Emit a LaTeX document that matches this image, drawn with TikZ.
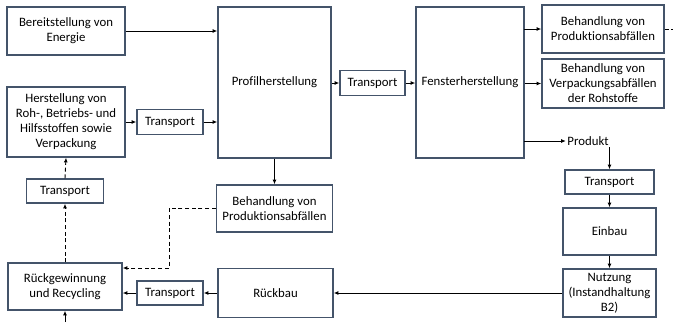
\documentclass[tikz,border=0pt]{standalone}
\usepackage{fontspec}
\setmainfont{Carlito}[Ligatures=NoCommon]
\usetikzlibrary{arrows.meta}
\definecolor{boxc}{HTML}{44546A}
\begin{document}
\begin{tikzpicture}[x=0.75pt,y=-0.75pt,
  box/.style={draw=boxc,line width=1.1pt,inner sep=0pt,align=center,
    font=\fontsize{9.6}{11.3}\selectfont},
  lbl/.style={inner sep=1pt,font=\fontsize{9.6}{11.3}\selectfont},
  arr/.style={-{Latex[length=3.5pt,width=3pt]},line width=0.7pt},
  darr/.style={arr,dash pattern=on 3pt off 2pt},
  dline/.style={line width=0.7pt,dash pattern=on 3pt off 2pt}]
\useasboundingbox (0,0) rectangle (673,322);
\node[box,minimum width=88.5pt,minimum height=36pt] (ber) at (66,31) {Bereitstellung von\\Energie};
\node[box,minimum width=88.5pt,minimum height=52.5pt] (her) at (66,122) {Herstellung von\\Roh-, Betriebs- und\\Hilfsstoffen sowie\\Verpackung};
\node[box,minimum width=49.5pt,minimum height=18.75pt] (t1) at (170,122) {Transport};
\node[box,minimum width=84.75pt,minimum height=113.25pt] (prof) at (274.5,82.5) {Profilherstellung};
\node[box,minimum width=48.75pt,minimum height=18.75pt] (t2) at (372.5,83) {Transport};
\node[box,minimum width=81pt,minimum height=113.25pt] (fen) at (470,82.5) {Fensterherstellung};
\node[box,minimum width=91.5pt,minimum height=36pt] (bp) at (603,29) {Behandlung von\\Produktionsabfällen};
\node[box,minimum width=91.5pt,minimum height=36.75pt] (bv) at (603,83.5) {Behandlung von\\Verpackungsabfällen\\der Rohstoffe};
\node[lbl] (prod) at (588,141) {Produkt};
\node[box,minimum width=66.75pt,minimum height=18pt] (t3) at (609.5,182) {Transport};
\node[box,minimum width=69.75pt,minimum height=35.25pt] (ein) at (609.5,231.5) {Einbau};
\node[box,minimum width=69.75pt,minimum height=36pt] (nut) at (609.5,293) {Nutzung\\(Instandhaltung\\B2)};
\node[box,minimum width=86.25pt,minimum height=36.75pt] (rb) at (275.5,293) {Rückbau};
\node[box,minimum width=49.5pt,minimum height=18pt] (t4) at (170,293) {Transport};
\node[box,minimum width=85.5pt,minimum height=35.25pt] (rg) at (65,286.5) {Rückgewinnung\\und Recycling};
\node[box,minimum width=57.75pt,minimum height=18pt] (t5) at (65,191) {Transport};
\node[box,minimum width=87pt,minimum height=35.25pt] (bm) at (274.5,208.5) {Behandlung von\\Produktionsabfällen};
\coordinate (bpout) at (673,29);
\coordinate (rgin) at (65,322);
\coordinate (bend1) at (169,208.5);
\coordinate (bend2) at (169,268);
\coordinate (f1) at (524,29);
\coordinate (f3) at (524,141);
% connectors
\draw[arr] (ber.east) -- (ber.east -| prof.west);
\draw[arr] (her.east |- t1.west) -- (t1.west);
\draw[arr] (t1.east) -- (t1.east -| prof.west);
\draw[arr] (prof.east |- t2.west) -- (t2.west);
\draw[arr] (t2.east) -- (t2.east -| fen.west);
\draw[arr] (f1) -- (bp.west);
\draw[arr] (fen.east |- bv.west) -- (bv.west);
\draw[arr] (f3) -- (prod.west);
\draw[arr] (prod.south -| t3.north) -- (t3.north);
\draw[arr] (t3.south) -- (ein.north);
\draw[arr] (ein.south) -- (nut.north);
\draw[arr] (nut.west) -- (nut.west -| rb.east);
\draw[arr] (rb.west) -- (rb.west -| t4.east);
\draw[arr] (t4.west) -- (t4.west -| rg.east);
\draw[arr] (prof.south) -- (bm.north);
\draw[darr] (bm.west) -- (bend1) -- (bend2) -- (bend2 -| rg.east);
\draw[darr] (rg.north) -- (t5.south);
\draw[darr] (t5.north) -- (her.south);
\draw[dline] (bp.east) -- (bpout);
\draw[arr] (rgin) -- (rg.south);
\end{tikzpicture}
\end{document}
